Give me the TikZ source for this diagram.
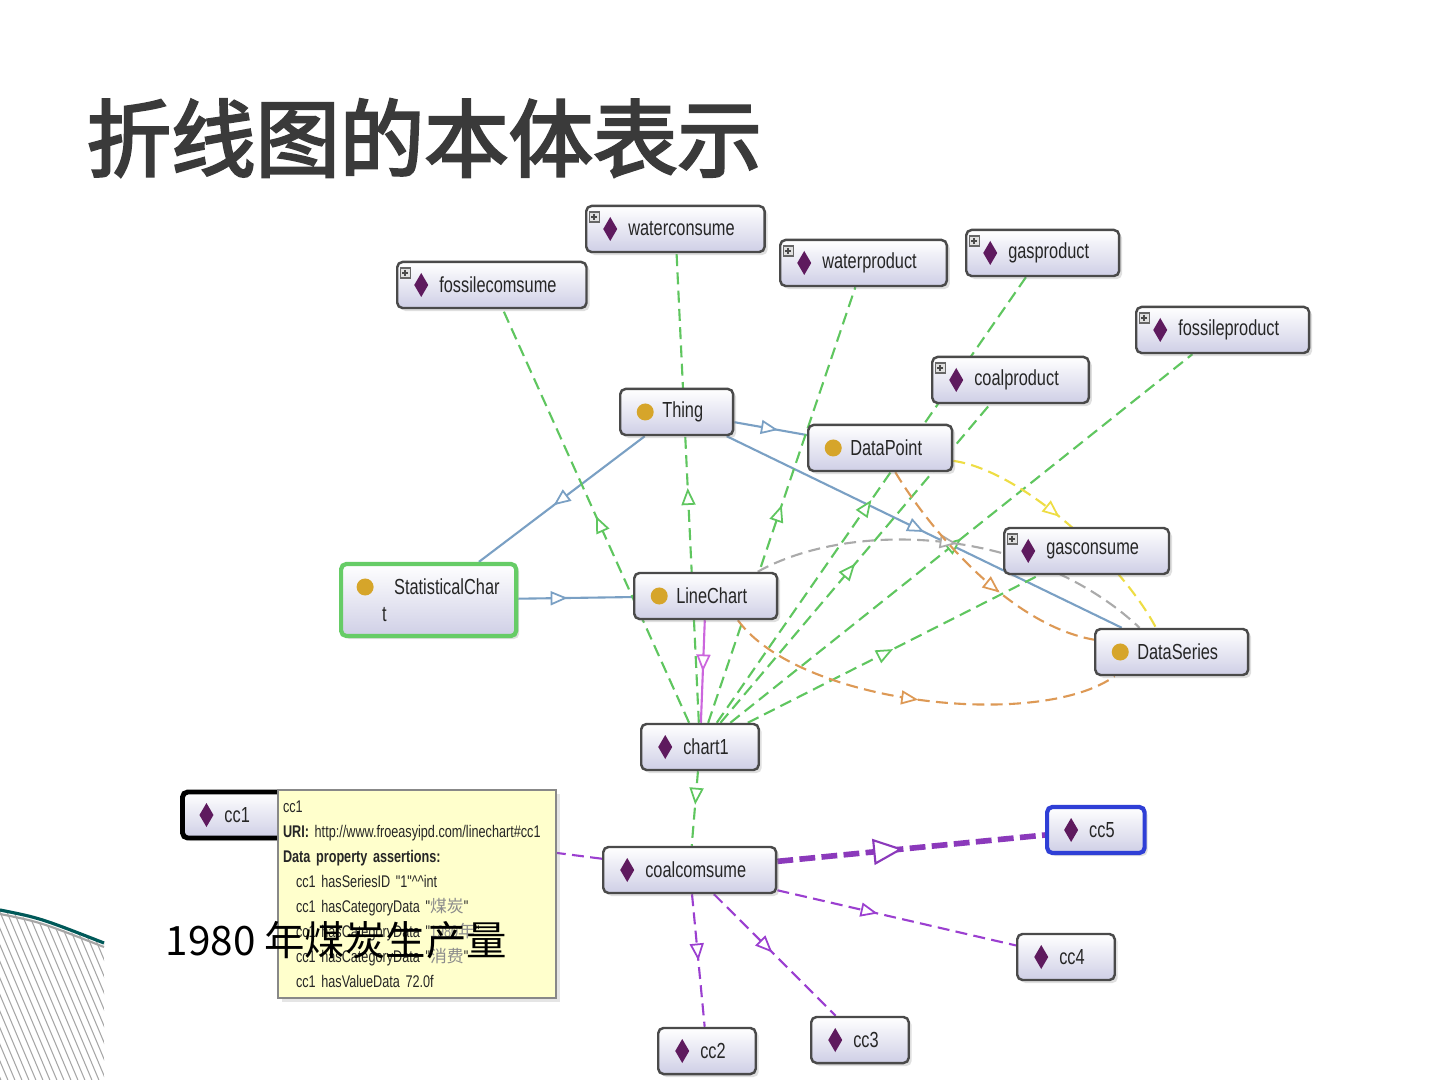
\documentclass[tikz,border=0pt]{standalone}
\usepackage{fontspec}
\usepackage{xcolor}
\usepackage{tikz}
\usetikzlibrary{arrows.meta,positioning,calc,decorations.markings,backgrounds,shadows}

\newfontfamily\cjk{Noto Sans CJK SC}
\newfontfamily\cjktitle[FakeBold=3]{Noto Sans CJK SC}
\newfontfamily\narrow[FakeStretch=0.75]{Liberation Sans}
\newcommand{\boxfont}{\narrow\fontsize{6.2}{7.7}\selectfont}
\newcommand{\tipfont}{\narrow\fontsize{4.8}{7.1}\selectfont}

\definecolor{boxline}{HTML}{4A4A4A}
\definecolor{boxbot}{HTML}{CFCFE6}
\definecolor{indcol}{HTML}{5E1A5E}
\definecolor{clscol}{HTML}{D6A52A}
\definecolor{subcol}{HTML}{7AA0C4}
\definecolor{typecol}{HTML}{5FC65F}
\definecolor{yelcol}{HTML}{EEDD44}
\definecolor{orgcol}{HTML}{DD9955}
\definecolor{greycol}{HTML}{AAAAAA}
\definecolor{valcol}{HTML}{9B3FD0}
\definecolor{pinkcol}{HTML}{CC66DD}
\definecolor{scline}{HTML}{66CC66}
\definecolor{cc5line}{HTML}{2F3FD6}
\definecolor{titlecol}{HTML}{3A3A3A}
\definecolor{tipfill}{HTML}{FFFFCC}
\definecolor{tipline}{HTML}{888888}

% icons inside the boxes
\newcommand{\indicon}{\fill[indcol, sharp corners] ($(path picture bounding box.west)+(24,0)$) +(0,12) -- +(7,0) -- +(0,-12) -- +(-7,0) -- cycle;}
\newcommand{\clsicon}{\fill[clscol] ($(path picture bounding box.west)+(25,0)$) circle (0.85mm);}
\newcommand{\plusicon}{%
  \draw[sharp corners, draw=black!60, fill=black!12, line width=0.3pt] ($(path picture bounding box.north west)+(3,-6)$) rectangle +(10,-10);
  \draw[line width=0.5pt] ($(path picture bounding box.north west)+(8,-8)$) -- +(0,-6);
  \draw[line width=0.5pt] ($(path picture bounding box.north west)+(5,-11)$) -- +(6,0);}

\begin{document}
\begin{tikzpicture}[
        x=0.01cm, y=0.01cm,
        box_node/.style={
            draw=boxline,
            line width=0.7pt,
            rounded corners=1.5pt,
            top color=white,
            bottom color=boxbot,
            minimum height=4.6mm,
            inner xsep=3mm,
            inner ysep=0pt,
            anchor=west,
            font=\boxfont,
            text=black!85,
            execute at begin node={\hspace*{1.2mm}},
            drop shadow={shadow xshift=0.3mm, shadow yshift=-0.3mm, opacity=0.25}
        },
        ind_node/.style={box_node, path picture={\indicon}},
        grp_node/.style={box_node, path picture={\indicon\plusicon}},
        cls_node/.style={box_node, path picture={\clsicon}},
        sub_edge/.style={draw=subcol, line width=0.6pt},
        type_edge/.style={draw=typecol, line width=0.6pt, dash pattern=on 3.4pt off 1.8pt},
        yel_edge/.style={draw=yelcol, line width=0.6pt, dash pattern=on 3.4pt off 1.8pt},
        org_edge/.style={draw=orgcol, line width=0.6pt, dash pattern=on 3.4pt off 1.8pt},
        grey_edge/.style={draw=greycol, line width=0.6pt, dash pattern=on 3.4pt off 1.8pt},
        val_edge/.style={draw=valcol, line width=0.6pt, dash pattern=on 3.4pt off 1.8pt},
        ind_edge/.style={draw=pinkcol, line width=0.6pt},
        tipmid/.style={postaction={decorate, decoration={markings,
            mark=at position #1 with {\arrow{Triangle[fill=white, length=1.7mm, width=1.4mm, line width=0.5pt]}}}}},
        tipmid/.default=0.5,
        bigtip/.style={postaction={decorate, decoration={markings,
            mark=at position #1 with {\arrow{Triangle[fill=white, length=3mm, width=2.6mm, line width=0.6pt]}}}}},
        tip_box/.style={
            draw=tipline,
            fill=tipfill,
            line width=0.6pt,
            align=left,
            text width=26.8mm,
            minimum height=20.8mm,
            inner xsep=0.5mm,
            inner ysep=1mm,
            font=\tipfont,
            text=black!85,
            drop shadow={shadow xshift=0.4mm, shadow yshift=-0.4mm, opacity=0.2}
        },
        hatch/.style={draw=black!35, line width=0.3pt}
    ]
        \useasboundingbox (0,0) rectangle (1440,-1080);

        % Title
        \node[anchor=west, inner sep=0pt, font=\cjktitle\fontsize{24}{28}\selectfont, text=titlecol] (title) at (86,-138) {折线图的本体表示};

        % Individuals and classes
        \node[grp_node] (wc) at (585,-229) {waterconsume};
        \node[grp_node] (fc) at (396,-285) {fossilecomsume};
        \node[grp_node] (wp) at (779,-263) {waterproduct};
        \node[grp_node] (gp) at (965,-253) {gasproduct};
        \node[grp_node] (fp) at (1135,-330) {fossileproduct};
        \node[grp_node] (cp) at (931,-380) {coalproduct};
        \node[cls_node] (thing) at (619,-412) {Thing};
        \node[cls_node] (dp) at (807,-448) {DataPoint};
        \node[grp_node] (gc) at (1003,-551) {gasconsume};
        \node[box_node, draw=scline, line width=1.2pt, align=left, text width=17.5mm, inner xsep=0pt, minimum height=7.2mm,
              execute at begin node={},
              path picture={\fill[clscol] ($(path picture bounding box.west)+(24,13)$) circle (0.85mm);}]
              (sc) at (339,-600) {\hspace*{4.1mm}StatisticalChar\\\hspace*{4.1mm}t};
        \node[cls_node] (lc) at (633,-596) {LineChart};
        \node[cls_node] (ds) at (1094,-652) {DataSeries};
        \node[ind_node] (chart) at (640,-747) {chart1};
        \node[ind_node, draw=black, line width=1.4pt] (cc1) at (180,-815) {cc1\hspace*{6mm}};
        \node[ind_node] (ccm) at (602,-870) {coalcomsume};
        \node[ind_node, draw=cc5line, line width=1.2pt] (cc5) at (1045,-830) {cc5};
        \node[ind_node] (cc4) at (1016,-957) {cc4};
        \node[ind_node] (cc2) at (657,-1051) {cc2};
        \node[ind_node] (cc3) at (810,-1040) {cc3};

        \begin{scope}[on background layer]
            \fill[white] (0,0) rectangle (1440,-1080);

            % Class hierarchy
            \draw[sub_edge, tipmid=0.55] (thing) -- (sc);
            \draw[sub_edge, tipmid=0.43] (sc) -- (lc);
            \draw[sub_edge, tipmid=0.6] (thing) -- (dp);
            \draw[sub_edge, tipmid=0.5] (thing) -- (ds);

            % Types of chart1
            \foreach \tgt in {fc,wc,wp,gp,cp,fp,gc}
                \draw[type_edge, tipmid] (chart) -- (\tgt);
            \draw[type_edge, tipmid=0.45] (chart) -- (ccm);
            \draw[ind_edge, tipmid] (lc) -- (chart);

            % Object properties
            \draw[grey_edge, tipmid=0.5] (lc.25) .. controls (850,-520) and (1030,-525) .. (ds.143);
            \draw[yel_edge, tipmid=0.45] (dp.-10) .. controls (1020,-470) and (1120,-560) .. (ds.123);
            \draw[org_edge, tipmid=0.6] (dp.-58) .. controls (930,-530) and (1010,-625) .. (ds.171);
            \draw[org_edge, tipmid=0.5] (lc.-37) .. controls (800,-705) and (1040,-730) .. (ds.-157);

            % Values of coalcomsume
            \draw[val_edge, draw=valcol!90!black, line width=1.6pt, dash pattern=on 4.5pt off 1.8pt, bigtip=0.47] (ccm) -- (cc5);
            \draw[val_edge, tipmid=0.42] (ccm) -- (cc4);
            \draw[val_edge, tipmid=0.48] (ccm) -- (cc3);
            \draw[val_edge, tipmid=0.5] (ccm) -- (cc2);
            \draw[val_edge, tipmid] (ccm) -- (cc1);
        \end{scope}

        % Tooltip
        \node[tip_box, anchor=north west] (tip) at (277,-789) {cc1\\
            \textbf{URI:} http://www.froeasyipd.com/linechart\#cc1\\
            \textbf{Data property assertions:}\\
            \hspace*{1.3mm}cc1 hasSeriesID "1"\textasciicircum\textasciicircum int\\
            \hspace*{1.3mm}cc1 hasCategoryData "{\color{black!45}\cjk 煤炭}"\\
            \hspace*{1.3mm}cc1 hasCategoryData "{\color{black!45}1980\cjk 年}"\\
            \hspace*{1.3mm}cc1 hasCategoryData "{\color{black!45}\cjk 消费}"\\
            \hspace*{1.3mm}cc1 hasValueData 72.0f};

        \node[anchor=west, inner sep=0pt, font=\cjk\fontsize{11.5}{14}\selectfont] (caption) at (165,-940) {1980 年煤炭生产量};

        % Corner decoration
        \begin{scope}
            \clip (0,-910) -- (104,-943) -- (104,-1080) -- (0,-1080) -- cycle;
            \foreach \x in {-80,-73,...,110}
                \draw[hatch] (\x,-905) -- ++(76,-180);
        \end{scope}
        \draw[black!35, line width=0.6pt] (0,-914) .. controls (40,-922) .. (104,-947);
        \draw[teal!70!black, line width=0.9pt] (0,-910) .. controls (40,-918) .. (104,-943);
    \end{tikzpicture}
\end{document}
